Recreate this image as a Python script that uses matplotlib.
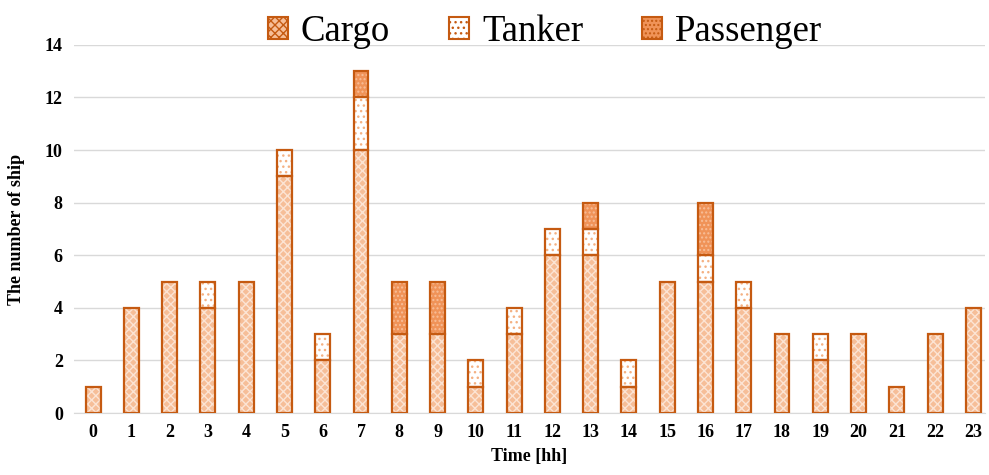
import matplotlib
matplotlib.use("Agg")
import matplotlib.pyplot as plt
import numpy as np
from matplotlib.patches import Patch

hours = list(range(24))
cargo     = [1, 4, 5, 4, 5, 9, 2, 10, 3, 3, 1, 3, 6, 6, 1, 5, 5, 4, 3, 2, 3, 1, 3, 4]
tanker    = [0, 0, 0, 1, 0, 1, 1, 2, 0, 0, 1, 1, 1, 1, 1, 0, 1, 1, 0, 1, 0, 0, 0, 0]
passenger = [0, 0, 0, 0, 0, 0, 0, 1, 2, 2, 0, 0, 0, 1, 0, 0, 2, 0, 0, 0, 0, 0, 0, 0]

plt.rcParams['font.family'] = ['Liberation Serif', 'DejaVu Serif']
edge = '#C55A11'
fig = plt.figure(figsize=(9.89, 4.75), dpi=100)
ax = fig.add_axes([0.0748, 0.1305, 0.921, 0.775])

x = np.array(hours)
c = np.array(cargo); t = np.array(tanker); p = np.array(passenger)
w = 0.39
styles = [
    (c, np.zeros(24), '#F6BE98', '#FCE4D4', 'xxxx'),
    (t, c, 'white', '#F4B183', '...'),
    (p, c + t, '#F09358', '#F8BE98', '....'),
]
for vals, bottom, face, hc, hatch in styles:
    mask = vals > 0
    ax.bar(x[mask], vals[mask], w, bottom=bottom[mask], color=face,
           edgecolor=hc, hatch=hatch, linewidth=0, zorder=2)
    ax.bar(x[mask], vals[mask], w, bottom=bottom[mask], fill=False,
           edgecolor=edge, linewidth=1.6, zorder=3)

ax.set_xlim(-0.5, 23.3)
ax.set_ylim(0, 14)
ax.set_yticks(range(0, 15, 2))
ax.set_xticks(hours)
ax.grid(axis='y', color='#D9D9D9', linewidth=1, zorder=0)
for s in ['top', 'right', 'left']:
    ax.spines[s].set_visible(False)
ax.spines['bottom'].set_color('#D9D9D9')
ax.tick_params(length=0, labelsize=13, pad=8)
for lab in ax.get_xticklabels() + ax.get_yticklabels():
    lab.set_fontweight('bold')
ax.set_xlabel('Time [hh]', fontsize=13, fontweight='bold', labelpad=5)
ax.set_ylabel('The number of ship', fontsize=13, fontweight='bold', labelpad=14)

handles = [
    Patch(facecolor='#F6BE98', edgecolor=edge, hatch='xxxx', linewidth=1.5),
    Patch(facecolor='white', edgecolor=edge, hatch='...', linewidth=1.5),
    Patch(facecolor='#F09358', edgecolor=edge, hatch='....', linewidth=1.5),
]
fig.legend(handles, ['Cargo', 'Tanker', 'Passenger'], loc='upper center',
           bbox_to_anchor=(0.551, 1.04), ncol=3, frameon=False, fontsize=26.5,
           handlelength=0.55, handleheight=0.55, handletextpad=0.35, columnspacing=1.6)

fig.savefig('out.png', dpi=100)
